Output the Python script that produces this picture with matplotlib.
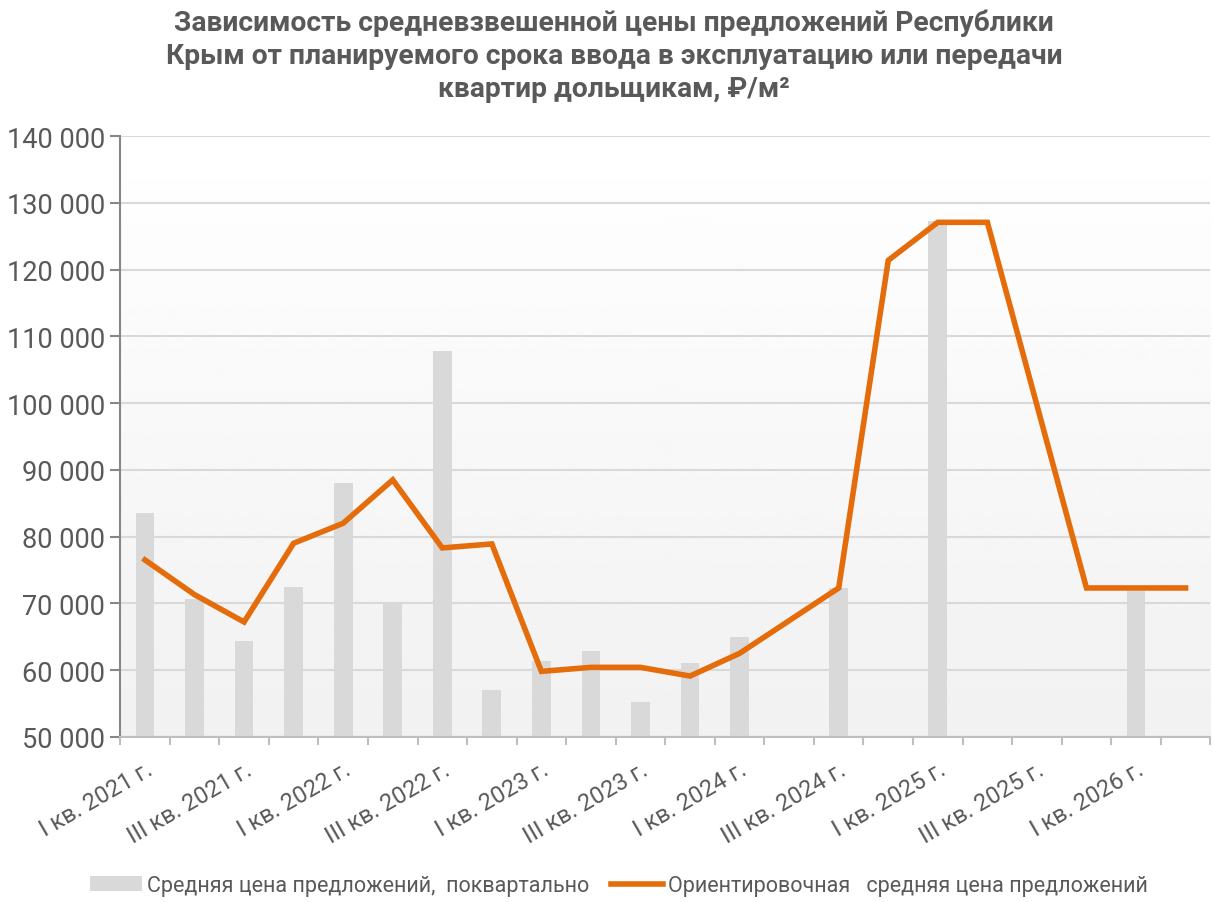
import numpy as np
import matplotlib.pyplot as plt
from matplotlib.ticker import FuncFormatter, FixedLocator

plt.rcParams['font.family'] = ['Roboto', 'DejaVu Sans']

# Quarters from I кв. 2021 to II кв. 2026
quarters = ['I кв. 2021 г.', 'II кв. 2021 г.', 'III кв. 2021 г.', 'IV кв. 2021 г.',
            'I кв. 2022 г.', 'II кв. 2022 г.', 'III кв. 2022 г.', 'IV кв. 2022 г.',
            'I кв. 2023 г.', 'II кв. 2023 г.', 'III кв. 2023 г.', 'IV кв. 2023 г.',
            'I кв. 2024 г.', 'II кв. 2024 г.', 'III кв. 2024 г.', 'IV кв. 2024 г.',
            'I кв. 2025 г.', 'II кв. 2025 г.', 'III кв. 2025 г.', 'IV кв. 2025 г.',
            'I кв. 2026 г.', 'II кв. 2026 г.']

# quarterly average price (bars), NaN where there is no bar
bar_values = [83500, 70700, 64300, 72500, 88000, 70000, 107800, 57000,
              61300, 62800, 55200, 61000, 65000, np.nan, 72300, np.nan,
              127300, np.nan, np.nan, np.nan, 72300, np.nan]

# estimated average price (line)
line_values = [76500, 71300, 67200, 79000, 82000, 88500, 78300, 78900,
               59800, 60400, 60400, 59100, 62500, 67400, 72300, 121400,
               127100, 127100, 99700, 72300, 72300, 72300]

title = ('Зависимость средневзвешенной цены предложений Республики\n'
         'Крым от планируемого срока ввода в эксплуатацию или передачи\n'
         'квартир дольщикам, ₽/м²')
bar_label = 'Средняя цена предложений,  поквартально'
line_label = 'Ориентировочная   средняя цена предложений'

text_color = '#595959'
x = np.arange(len(quarters))

fig = plt.figure(figsize=(12.14, 9.03), dpi=100)
ax = fig.add_axes([0.099, 0.183, 0.898, 0.665])

# light vertical gradient in the plot area
grad = np.linspace(1.0, 0.945, 256).reshape(-1, 1)
ax.imshow(grad, cmap='gray', vmin=0, vmax=1, aspect='auto',
          extent=[0, 1, 0, 1], transform=ax.transAxes, zorder=0)

ax.bar(x, bar_values, width=0.38, color='#d9d9d9', label=bar_label, zorder=2)
ax.plot(x, line_values, color='#e46c0a', linewidth=4, solid_joinstyle='miter',
        label=line_label, zorder=3)

ax.set_xlim(-0.5, len(quarters) - 0.5)
ax.set_ylim(50000, 140000)
ax.set_yticks(np.arange(50000, 140001, 10000))
ax.yaxis.set_major_formatter(FuncFormatter(lambda v, p: f'{int(v):,}'.replace(',', ' ')))
ax.grid(axis='y', color='#d9d9d9', linewidth=1.5, zorder=1)
ax.set_axisbelow(True)

# labels every other quarter, tick marks at category boundaries
ax.set_xticks(x[::2])
ax.set_xticklabels(quarters[::2], rotation=30, ha='right', rotation_mode='anchor')
ax.xaxis.set_minor_locator(FixedLocator(np.arange(-0.5, len(quarters), 1)))
ax.tick_params(axis='x', which='major', length=0, pad=15, labelsize=17, labelcolor=text_color)
ax.tick_params(axis='x', which='minor', length=6, width=1.5, color='#bfbfbf')
ax.tick_params(axis='y', length=7, width=1.5, color='#868686', labelsize=19.5,
               labelcolor=text_color, pad=4)

for s in ['top', 'right']:
    ax.spines[s].set_visible(False)
ax.spines['left'].set_color('#868686')
ax.spines['left'].set_linewidth(1.5)
ax.spines['bottom'].set_color('#bfbfbf')
ax.spines['bottom'].set_linewidth(1.5)

fig.suptitle(title, x=0.506, y=0.99, fontsize=20.3, fontweight='bold',
             color=text_color, linespacing=1.3)

handles, labels = ax.get_legend_handles_labels()
order = [labels.index(bar_label), labels.index(line_label)]
fig.legend([handles[i] for i in order], [labels[i] for i in order],
           loc='lower center', bbox_to_anchor=(0.51, -0.015), ncol=2, frameon=False,
           fontsize=15.5, labelcolor=text_color, handlelength=2.4, handletextpad=0.25,
           columnspacing=1.0)

fig.savefig('out.png', dpi=100)
